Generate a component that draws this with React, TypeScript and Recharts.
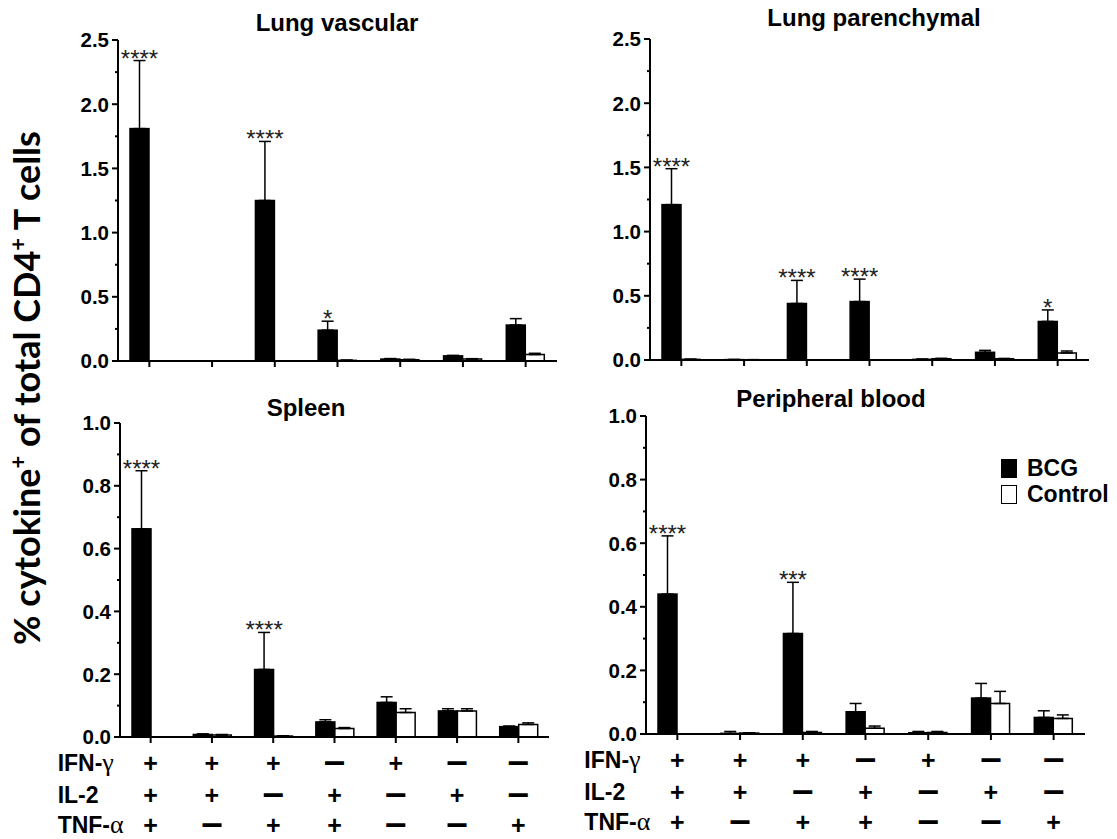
import React from "react";
import { BarChart, Bar, XAxis, YAxis, ErrorBar, Legend } from "recharts";

const FONT = "'Liberation Sans', Arial, sans-serif";
const GREEK = "'Liberation Serif', 'Times New Roman', serif";

// cytokine combinations per category (IFN-γ / IL-2 / TNF-α)
const ifnRow = ["+", "+", "+", "−", "+", "−", "−"];
const il2Row = ["+", "+", "−", "+", "−", "+", "−"];
const tnfRow = ["+", "−", "+", "+", "−", "−", "+"];
const combos = ifnRow.map((v, i) => v + il2Row[i] + tnfRow[i] + i);
const rowLabels = [
  { main: "IFN-", greek: "γ" },
  { main: "IL-2", greek: "" },
  { main: "TNF-", greek: "α" },
];

const lungTicks = [0, 0.25, 0.5, 0.75, 1, 1.25, 1.5, 1.75, 2, 2.25, 2.5];
const lowTicks = [0, 0.1, 0.2, 0.3, 0.4, 0.5, 0.6, 0.7, 0.8, 0.9, 1];

// Lung vascular
const lvBcg = [1.81, 0, 1.25, 0.24, 0.015, 0.04, 0.28];
const lvBcgErr = [0.53, 0, 0.46, 0.07, 0.004, 0.004, 0.05];
const lvCtrl = [0, 0, 0, 0.005, 0.01, 0.015, 0.05];
const lvCtrlErr = [0, 0, 0, 0.002, 0.003, 0.003, 0.01];
const lvSig = ["****", "", "****", "*", "", "", ""];

// Lung parenchymal
const lpBcg = [1.21, 0.003, 0.44, 0.455, 0.005, 0.06, 0.3];
const lpBcgErr = [0.28, 0.001, 0.18, 0.175, 0.002, 0.015, 0.09];
const lpCtrl = [0.005, 0.002, 0, 0, 0.01, 0.01, 0.055];
const lpCtrlErr = [0.001, 0.001, 0, 0, 0.003, 0.002, 0.015];
const lpSig = ["****", "", "****", "****", "", "", "*"];

// Spleen
const spBcg = [0.663, 0.008, 0.215, 0.048, 0.11, 0.083, 0.033];
const spBcgErr = [0.185, 0.002, 0.118, 0.007, 0.018, 0.007, 0.002];
const spCtrl = [0, 0.006, 0.003, 0.027, 0.078, 0.083, 0.04];
const spCtrlErr = [0, 0.002, 0.001, 0.003, 0.012, 0.007, 0.005];
const spSig = ["****", "", "****", "", "", "", ""];

// Peripheral blood
const pbBcg = [0.44, 0.002, 0.316, 0.07, 0.004, 0.113, 0.052];
const pbBcgErr = [0.183, 0.006, 0.161, 0.026, 0.004, 0.046, 0.021];
const pbCtrl = [0, 0.003, 0.005, 0.018, 0.005, 0.096, 0.049];
const pbCtrlErr = [0, 0.001, 0.003, 0.007, 0.003, 0.038, 0.011];
const pbSig = ["****", "", "***", "", "", "", ""];

const makeData = (
  bcg: number[],
  bcgErr: number[],
  ctrl: number[],
  ctrlErr: number[],
  sig: string[]
) =>
  combos.map((c, i) => ({
    combo: c,
    bcg: bcg[i],
    ctrl: ctrl[i],
    bcgErr: [0, bcgErr[i]],
    ctrlErr: [0, ctrlErr[i]],
    sig: sig[i],
  }));

const YTick = (props: any) => {
  const { x, y, payload, step } = props;
  const v = payload.value;
  const major = Math.abs(v / step - Math.round(v / step)) < 1e-6;
  const ax = x + 9;
  return (
    <g>
      <line x1={ax} x2={ax - (major ? 6 : 3)} y1={y} y2={y} stroke="#000" strokeWidth={2} />
      {major && (
        <text
          x={ax - 9}
          y={y}
          dy="0.36em"
          textAnchor="end"
          fontSize={20.5}
          fontWeight="bold"
          fontFamily={FONT}
          fill="#000"
        >
          {v.toFixed(1)}
        </text>
      )}
    </g>
  );
};

const EmptyTick = () => <g />;

const Sign = ({ x, y, s }: { x: number; y: number; s: string }) =>
  s === "+" ? (
    <text x={x} y={y + 9} textAnchor="middle" fontSize={25} fontWeight="bold" fontFamily={FONT} fill="#000">
      +
    </text>
  ) : (
    <text
      x={x}
      y={y + 5}
      textAnchor="middle"
      fontSize={17}
      fontWeight="bold"
      fontFamily={FONT}
      fill="#000"
      stroke="#000"
      strokeWidth={2}
    >
      —
    </text>
  );

const TableTick = (props: any) => {
  const { x, y, payload } = props;
  const index = props.index ?? payload.index ?? 0;
  const rows = [ifnRow, il2Row, tnfRow];
  const offs = [18, 50, 80];
  return (
    <g>
      {rows.map((r, k) => (
        <Sign key={k} x={x} y={y + offs[k]} s={r[index]} />
      ))}
      {index === 0 &&
        rowLabels.map((lab, k) => (
          <text
            key={"l" + k}
            x={x - 93}
            y={y + offs[k] + 8}
            fontSize={23}
            fontWeight="bold"
            fontFamily={FONT}
            fill="#000"
          >
            {lab.main}
            {lab.greek && (
              <tspan fontFamily={GREEK} fontWeight="normal" fontSize={26}>
                {lab.greek}
              </tspan>
            )}
          </text>
        ))}
    </g>
  );
};

const BcgShape = (p: any) => {
  const { x, y, width, height, payload } = p;
  const val = payload?.bcg ?? 0;
  const err = payload?.bcgErr?.[1] ?? 0;
  const pxPer = val > 0 && height > 0 ? height / val : 0;
  const topY = y - err * pxPer;
  return (
    <g>
      <rect x={x} y={y} width={width} height={Math.max(height, 0)} fill="#000" stroke="#000" strokeWidth={1.5} />
      {payload?.sig && (
        <text x={x + width / 2} y={topY + 6} textAnchor="middle" fontSize={24} fontFamily={FONT} fill="#222">
          {payload.sig}
        </text>
      )}
    </g>
  );
};

const LegendBox = (props: any) => {
  const items = props.payload || [];
  return (
    <div style={{ fontFamily: FONT, fontWeight: "bold", fontSize: 23, color: "#000", lineHeight: "26px" }}>
      {items.map((it: any) => (
        <div key={it.value} style={{ display: "flex", alignItems: "center", height: 26, whiteSpace: "nowrap" }}>
          <span
            style={{
              display: "inline-block",
              boxSizing: "border-box",
              width: 16,
              height: 19,
              background: it.value === "BCG" ? "#000" : "#fff",
              border: "1.5px solid #000",
              marginRight: 10,
            }}
          />
          {it.value}
        </div>
      ))}
    </div>
  );
};

type PanelProps = {
  data: any[];
  ticks: number[];
  step: number;
  max: number;
  left: number;
  top: number;
  width: number;
  height: number;
  yWidth: number;
  xHeight: number;
  bottom?: boolean;
  legend?: boolean;
};

const Panel = ({ data, ticks, step, max, left, top, width, height, yWidth, xHeight, bottom, legend }: PanelProps) => (
  <div style={{ position: "absolute", left, top }}>
    <BarChart
      width={width}
      height={height}
      data={data}
      margin={{ top: 20, right: 5, left: 0, bottom: 0 }}
      barGap={0}
      barSize={19}
      style={{ overflow: "visible" }}
    >
      <XAxis
        dataKey="combo"
        interval={0}
        axisLine={{ stroke: "#000", strokeWidth: 2 }}
        tickLine={{ stroke: "#000", strokeWidth: 2 }}
        tickSize={6}
        tickMargin={2}
        height={xHeight}
        tick={bottom ? <TableTick /> : <EmptyTick />}
      />
      <YAxis
        domain={[0, max]}
        ticks={ticks}
        interval={0}
        width={yWidth}
        tickSize={6}
        tickMargin={3}
        tickLine={false}
        axisLine={{ stroke: "#000", strokeWidth: 2 }}
        tick={<YTick step={step} />}
      />
      {legend && (
        <Legend
          layout="horizontal"
          verticalAlign="middle"
          align="center"
          content={<LegendBox />}
          wrapperStyle={{ left: 441, top: 59, width: "auto", height: "auto" }}
        />
      )}
      <Bar dataKey="bcg" name="BCG" fill="#000" stroke="#000" strokeWidth={1.5} shape={<BcgShape />} isAnimationActive={false}>
        <ErrorBar dataKey="bcgErr" width={6} stroke="#000" strokeWidth={1.5} direction="y" />
      </Bar>
      <Bar dataKey="ctrl" name="Control" fill="#fff" stroke="#000" strokeWidth={1.5} isAnimationActive={false}>
        <ErrorBar dataKey="ctrlErr" width={6} stroke="#000" strokeWidth={1.5} direction="y" />
      </Bar>
    </BarChart>
  </div>
);

const titles = [
  { text: "Lung vascular", x: 337, y: 31 },
  { text: "Lung parenchymal", x: 874, y: 26 },
  { text: "Spleen", x: 306, y: 416 },
  { text: "Peripheral blood", x: 831, y: 407 },
];

export default function App() {
  return (
    <div style={{ position: "absolute", left: 0, top: 0, width: 1117, height: 839, background: "#fff", overflow: "hidden" }}>
      <Panel data={makeData(lvBcg, lvBcgErr, lvCtrl, lvCtrlErr, lvSig)} ticks={lungTicks} step={0.5} max={2.5}
        left={58} top={20} width={504} height={361} yWidth={60} xHeight={20} />
      <Panel data={makeData(lpBcg, lpBcgErr, lpCtrl, lpCtrlErr, lpSig)} ticks={lungTicks} step={0.5} max={2.5}
        left={590} top={19} width={504} height={361} yWidth={60} xHeight={20} />
      <Panel data={makeData(spBcg, spBcgErr, spCtrl, spCtrlErr, spSig)} ticks={lowTicks} step={0.2} max={1}
        left={0} top={403} width={554} height={436} yWidth={120} xHeight={102} bottom />
      <Panel data={makeData(pbBcg, pbBcgErr, pbCtrl, pbCtrlErr, pbSig)} ticks={lowTicks} step={0.2} max={1}
        left={560} top={396} width={530} height={443} yWidth={86} xHeight={105} bottom legend />
      <svg width={1117} height={839} style={{ position: "absolute", left: 0, top: 0, pointerEvents: "none" }}>
        {titles.map((t) => (
          <text key={t.text} x={t.x} y={t.y} textAnchor="middle" fontSize={24} fontWeight="bold" fontFamily={FONT} fill="#000">
            {t.text}
          </text>
        ))}
        <text
          transform="translate(40,388) rotate(-90)"
          textAnchor="middle"
          fontSize={36}
          fontWeight="bold"
          fontFamily="Lato, 'Open Sans', sans-serif"
          fill="#000"
        >
          % cytokine
          <tspan fontSize={22} dy={-14}>+</tspan>
          <tspan dy={14}> of total CD4</tspan>
          <tspan fontSize={22} dy={-14}>+</tspan>
          <tspan dy={14}> T cells</tspan>
        </text>
      </svg>
    </div>
  );
}
